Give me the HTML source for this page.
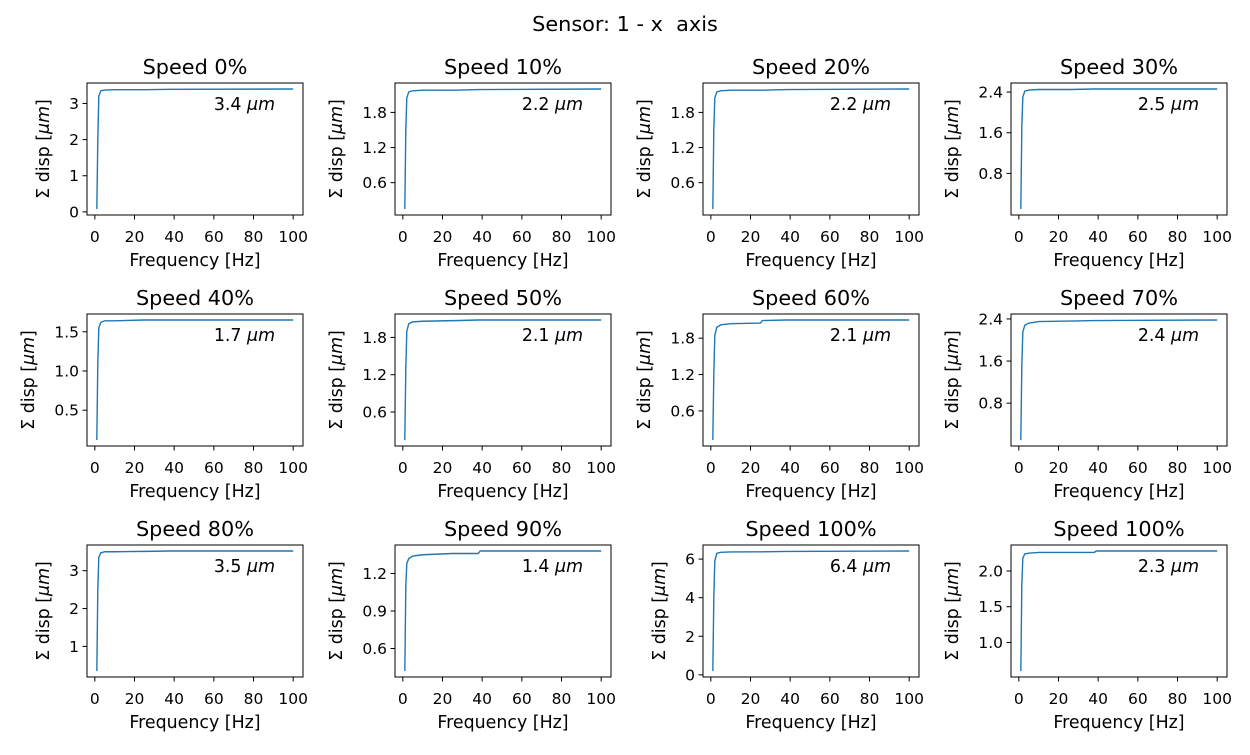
<!DOCTYPE html>
<html><head><meta charset="utf-8"><style>
body{margin:0;background:#fff;}
svg text{font-family:"DejaVu Sans","Liberation Sans",sans-serif;fill:#000;white-space:pre;}
</style></head><body>
<svg id="fig" width="1250" height="750" viewBox="0 0 1250 750" xmlns="http://www.w3.org/2000/svg">
<rect width="1250" height="750" fill="#fff"/>
<text x="625" y="31" font-size="20.8" text-anchor="middle" xml:space="preserve">Sensor: 1 - x  axis</text>
</svg>
<script>
const freqs = [1,1.5,2,3,5,10,25,26,38,39,100];
const titles = ["Speed 0%","Speed 10%","Speed 20%","Speed 30%","Speed 40%","Speed 50%","Speed 60%","Speed 70%","Speed 80%","Speed 90%","Speed 100%","Speed 100%"];
const notes = ["3.4","2.2","2.2","2.5","1.7","2.1","2.1","2.4","3.5","1.4","6.4","2.3"];
const s0 = [0.08,2.0,3.2,3.35,3.37,3.38,3.38,3.38,3.39,3.39,3.4];
const s1 = [0.15,1.5,2.05,2.15,2.17,2.18,2.18,2.18,2.19,2.19,2.2];
const s2 = [0.15,1.5,2.05,2.15,2.17,2.18,2.18,2.18,2.19,2.19,2.2];
const s3 = [0.1,1.7,2.3,2.42,2.44,2.45,2.45,2.45,2.46,2.46,2.46];
const s4 = [0.12,1.1,1.55,1.62,1.64,1.64,1.65,1.65,1.65,1.65,1.65];
const s5 = [0.15,1.3,1.9,2.02,2.05,2.06,2.07,2.07,2.08,2.08,2.08];
const s6 = [0.12,1.2,1.85,1.98,2.02,2.04,2.05,2.09,2.1,2.1,2.1];
const s7 = [0.1,1.5,2.15,2.28,2.32,2.35,2.36,2.36,2.37,2.37,2.38];
const s8 = [0.35,2.5,3.35,3.47,3.5,3.5,3.51,3.51,3.52,3.52,3.52];
const s9 = [0.42,1.1,1.28,1.32,1.34,1.35,1.36,1.36,1.36,1.38,1.38];
const s10 = [0.2,4.0,5.9,6.3,6.35,6.37,6.38,6.38,6.4,6.4,6.42];
const s11 = [0.6,1.8,2.18,2.24,2.25,2.26,2.26,2.26,2.26,2.28,2.28];
const series = [s0,s1,s2,s3,s4,s5,s6,s7,s8,s9,s10,s11];
const yTicks = [["0","1","2","3"],["0.6","1.2","1.8"],["0.6","1.2","1.8"],["0.8","1.6","2.4"],["0.5","1.0","1.5"],["0.6","1.2","1.8"],["0.6","1.2","1.8"],["0.8","1.6","2.4"],["1","2","3"],["0.6","0.9","1.2"],["0","2","4","6"],["1.0","1.5","2.0"]];
const xTicks = ["0","20","40","60","80","100"];

const NS="http://www.w3.org/2000/svg";
const svg=document.getElementById('fig');
function mk(tag,attrs,parent,txt){const e=document.createElementNS(NS,tag);for(const k in attrs)e.setAttribute(k,attrs[k]);if(txt!==undefined)e.textContent=txt;parent.appendChild(e);return e;}
const colL=[87,395,703,1011], rowT=[83,314,545], W=216, H=132;
for(let i=0;i<12;i++){
  const L=colL[i%4], T=rowT[Math.floor(i/4)], B=T+H, R=L+W;
  const vals=series[i];
  const g=mk('g',{},svg);
  
  
  const fmin=Math.min(...freqs), fmax=Math.max(...freqs), fm=(fmax-fmin)*0.05;
  const x0=fmin-fm, x1=fmax+fm;
  const vmin=Math.min(...vals), vmax=Math.max(...vals), vm=(vmax-vmin)*0.05;
  const y0=vmin-vm, y1=vmax+vm;
  const xs=v=>L+(v-x0)/(x1-x0)*W, ys=v=>B-(v-y0)/(y1-y0)*H;
  const d=freqs.map((f,j)=>(j?'L':'M')+xs(f).toFixed(2)+' '+ys(vals[j]).toFixed(2)).join(' ');
  const p=mk('path',{d:d,fill:'none',stroke:'#1f77b4','stroke-width':1.4},g);
  
  
  const fr=mk('rect',{x:L,y:T,width:W,height:H,fill:'none',stroke:'#000','stroke-width':1},g);
  
  
  const t=mk('text',{x:L+W/2,y:T-9,'font-size':20.8,'text-anchor':'middle'},g,titles[i]);
  
  
  xTicks.forEach(tk=>{const X=xs(+tk);mk('line',{x1:X,x2:X,y1:B,y2:B+4.5,stroke:'#000'},g);
    const e=mk('text',{x:X,y:B+27,'font-size':15.5,'text-anchor':'middle'},g,tk);
    
    });
  let maxc=1;
  yTicks[i].forEach(tk=>{const Y=ys(+tk);mk('line',{x1:L-4.5,x2:L,y1:Y,y2:Y,stroke:'#000'},g);
    maxc=Math.max(maxc,tk.length);
    const e=mk('text',{x:L-8,y:Y+5.5,'font-size':15.5,'text-anchor':'end'},g,tk);
    
    });
  const xl=mk('text',{x:L+W/2,y:B+51,'font-size':17.4,'text-anchor':'middle'},g,'Frequency [Hz]');
  
  
  const yx=L-(36.5+7.5*maxc)+6, yc=T+H/2;
  const yl=mk('text',{x:yx,y:yc,'font-size':17.4,'text-anchor':'middle',transform:`rotate(-90 ${yx} ${yc})`},g);
  yl.innerHTML='Σ disp [<tspan font-style="italic">μm</tspan>]';
  
  
  const an=mk('text',{x:xs(60),y:T+27,'font-size':17.4},g);
  an.innerHTML=notes[i]+' <tspan font-style="italic">μm</tspan>';
  
  
}
</script>
</body></html>
